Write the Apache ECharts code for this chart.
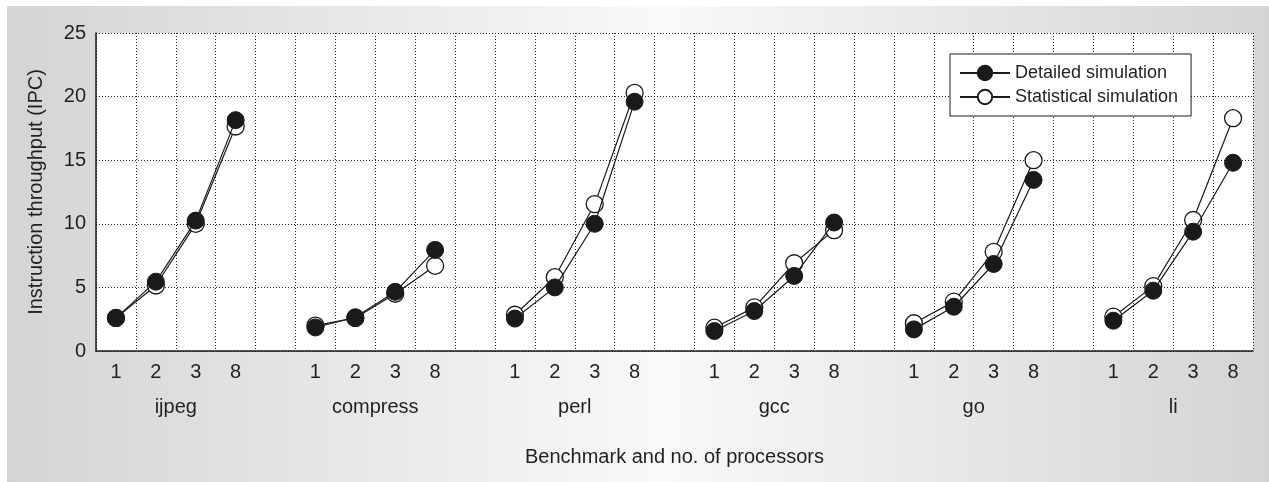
<!DOCTYPE html>
<html>
<head>
<meta charset="utf-8">
<script src="https://cdn.jsdelivr.net/npm/echarts@6/dist/echarts.min.js"></script>
<style>
  html, body { margin: 0; padding: 0; background: #ffffff; }
  #chart { position: absolute; left: 7px; top: 6px; width: 1262px; height: 476px; }
</style>
</head>
<body>
<div id="chart"></div>
<script>
// ---- Data ----
const benchmarks = ['ijpeg', 'compress', 'perl', 'gcc', 'go', 'li'];
const processors = ['1', '2', '3', '8'];
// values per benchmark, in processor order 1, 2, 3, 8
const detailedIJPEG = [2.6, 5.45, 10.25, 18.15];
const detailedCOMPRESS = [1.85, 2.65, 4.65, 7.95];
const detailedPERL = [2.55, 5.0, 10.0, 19.6];
const detailedGCC = [1.57, 3.14, 5.9, 10.1];
const detailedGO = [1.7, 3.48, 6.84, 13.45];
const detailedLI = [2.38, 4.74, 9.38, 14.8];
const statisticalIJPEG = [2.6, 5.15, 10.0, 17.65];
const statisticalCOMPRESS = [2.0, 2.6, 4.5, 6.7];
const statisticalPERL = [2.85, 5.8, 11.55, 20.3];
const statisticalGCC = [1.83, 3.43, 6.9, 9.5];
const statisticalGO = [2.18, 3.88, 7.8, 15.0];
const statisticalLI = [2.7, 5.1, 10.3, 18.3];
const yTicks = [0, 5, 10, 15, 20, 25];

const detailedAll = [detailedIJPEG, detailedCOMPRESS, detailedPERL, detailedGCC, detailedGO, detailedLI];
const statisticalAll = [statisticalIJPEG, statisticalCOMPRESS, statisticalPERL, statisticalGCC, statisticalGO, statisticalLI];

// Build 29 category slots: 4 processors per benchmark plus a blank gap slot between benchmarks
const categories = [];
const detailedData = [];
const statisticalData = [];
benchmarks.forEach(function (b, bi) {
  processors.forEach(function (p, pi) {
    categories.push(p);
    detailedData.push(detailedAll[bi][pi]);
    statisticalData.push(statisticalAll[bi][pi]);
  });
  if (bi < benchmarks.length - 1) {
    categories.push('');
    detailedData.push(null);
    statisticalData.push(null);
  }
});
const groupSize = processors.length + 1;

const ink = '#1a1a1a';
const textColor = '#231f20';
const font = 'Liberation Sans, Arial, Helvetica, sans-serif';

const chart = echarts.init(document.getElementById('chart'), null, { renderer: 'canvas' });
chart.setOption({
  animation: false,
  backgroundColor: new echarts.graphic.LinearGradient(0, 0, 1, 0, [
    { offset: 0, color: '#d3d4d6' },
    { offset: 0.52, color: '#f9f9f9' },
    { offset: 1, color: '#d3d4d6' }
  ]),
  textStyle: { fontFamily: font, color: textColor },
  grid: {
    left: 89, right: 16, top: 27, bottom: 131,
    show: true, backgroundColor: '#ffffff', borderWidth: 0
  },
  legend: {
    data: ['Detailed simulation', 'Statistical simulation'],
    orient: 'vertical',
    left: 943, top: 48,
    backgroundColor: '#ffffff',
    borderColor: ink, borderWidth: 1,
    padding: [10, 13, 10, 9],
    itemWidth: 50, itemHeight: 18, itemGap: 6,
    textStyle: { fontSize: 18, color: textColor, fontFamily: font }
  },
  xAxis: [
    {
      type: 'category',
      data: categories,
      boundaryGap: true,
      name: 'Benchmark and no. of processors',
      nameLocation: 'middle',
      nameGap: 96,
      nameTextStyle: { fontSize: 20, color: textColor, fontFamily: font },
      axisLine: { show: true, lineStyle: { color: ink, width: 1.5 } },
      axisTick: { show: false },
      axisLabel: { fontSize: 20, color: textColor, margin: 11, interval: 0, fontFamily: font },
      splitLine: { show: true, lineStyle: { color: '#222', type: [1, 2], width: 1 } }
    },
    {
      type: 'value',
      position: 'bottom',
      min: 0, max: categories.length, interval: 1,
      axisLine: { show: false },
      axisTick: { show: false },
      splitLine: { show: false },
      axisLabel: {
        fontSize: 20, color: textColor, margin: 46, fontFamily: font,
        showMinLabel: true, showMaxLabel: true,
        formatter: function (v) {
          const k = (v - processors.length / 2) / groupSize;
          if (Number.isInteger(k) && k >= 0 && k < benchmarks.length) return benchmarks[k];
          return '';
        }
      }
    }
  ],
  yAxis: {
    type: 'value',
    min: yTicks[0], max: yTicks[yTicks.length - 1], interval: 5,
    name: 'Instruction throughput (IPC)',
    nameLocation: 'middle',
    nameGap: 50,
    nameTextStyle: { fontSize: 20, color: textColor, fontFamily: font },
    axisLine: { show: true, lineStyle: { color: ink, width: 1.5 } },
    axisTick: { show: false },
    axisLabel: { fontSize: 20, color: textColor, margin: 10, fontFamily: font },
    splitLine: { show: true, lineStyle: { color: '#222', type: [1, 2], width: 1 } }
  },
  series: [
    {
      name: 'Statistical simulation',
      type: 'line',
      data: statisticalData,
      xAxisIndex: 0,
      symbol: 'circle', symbolSize: 17, showSymbol: true, showAllSymbol: true,
      connectNulls: false,
      lineStyle: { color: ink, width: 1.2 },
      itemStyle: { color: '#ffffff', borderColor: ink, borderWidth: 1.3 },
      emphasis: { disabled: true },
      z: 3
    },
    {
      name: 'Detailed simulation',
      type: 'line',
      data: detailedData,
      xAxisIndex: 0,
      symbol: 'circle', symbolSize: 17, showSymbol: true, showAllSymbol: true,
      connectNulls: false,
      lineStyle: { color: ink, width: 1.2 },
      itemStyle: { color: ink, borderColor: ink, borderWidth: 1 },
      emphasis: { disabled: true },
      z: 4
    }
  ]
});
</script>
</body>
</html>
